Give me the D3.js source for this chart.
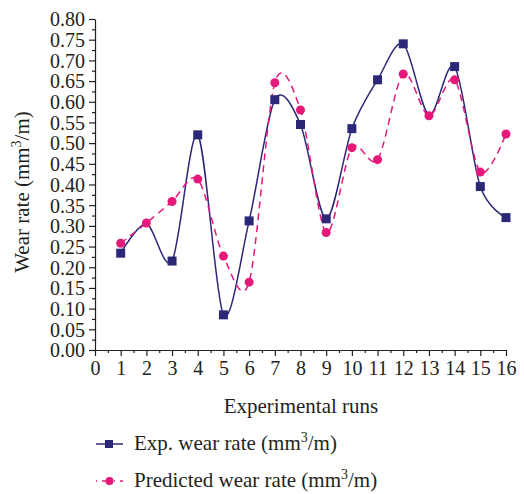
<!DOCTYPE html>
<html>
<head>
<meta charset="utf-8">
<script src="https://cdn.jsdelivr.net/npm/d3@7"></script>
<style>
  body { margin: 0; background: #fff; }
  svg text { font-family: "Liberation Serif", "DejaVu Serif", serif; fill: #231f20; }
</style>
</head>
<body>
<div id="chart"></div>
<script>
// experimental runs 1..16
const runs = d3.range(1, 17);
// measured wear rate (mm3/m)
const expWear = [0.234, 0.305, 0.215, 0.520, 0.085, 0.312, 0.605, 0.545,
                 0.317, 0.535, 0.653, 0.740, 0.568, 0.685, 0.395, 0.320];
// model prediction (mm3/m)
const predWear = [0.258, 0.307, 0.359, 0.413, 0.227, 0.164, 0.646, 0.580,
                  0.284, 0.489, 0.460, 0.667, 0.566, 0.653, 0.430, 0.522];
// markers drawn for the measured series (2 and 13 hidden under the circles)
const expMarked = [1, 3, 4, 5, 6, 7, 8, 9, 10, 11, 12, 14, 15, 16];
const yTicks = d3.range(0, 0.801, 0.05);
const xTicks = d3.range(0, 17);

const width = 524, height = 494;
const marginLeft = 95, marginTop = 19, plotRight = 506, plotBottom = 350;
const navy = "#2b2977", pink = "#e6197b";

const svg = d3.select("#chart").append("svg")
    .attr("width", width)
    .attr("height", height);

const x = d3.scaleLinear([0, 16], [marginLeft, plotRight]);
const y = d3.scaleLinear([0, 0.8], [plotBottom, marginTop]);

// y axis, major ticks plus minor halfway ticks
svg.append("g")
    .attr("transform", `translate(${marginLeft},0)`)
    .call(d3.axisLeft(y).tickValues(d3.range(0.025, 0.8, 0.05)).tickSize(3).tickSizeOuter(0).tickFormat(""))
    .call(g => g.select(".domain").remove());
svg.append("g")
    .attr("transform", `translate(${marginLeft},0)`)
    .call(d3.axisLeft(y).tickValues(yTicks).tickSize(6).tickSizeOuter(0).tickPadding(4).tickFormat(d3.format(".2f")))
    .call(g => g.selectAll("text").attr("font-size", 20).attr("dy", "0.34em"));

// x axis
svg.append("g")
    .attr("transform", `translate(0,${plotBottom})`)
    .call(d3.axisBottom(x).tickValues(d3.range(0.5, 16, 1)).tickSize(3).tickSizeOuter(0).tickFormat(""))
    .call(g => g.select(".domain").remove());
svg.append("g")
    .attr("transform", `translate(0,${plotBottom})`)
    .call(d3.axisBottom(x).tickValues(xTicks).tickSize(6).tickSizeOuter(0).tickPadding(5).tickFormat(d3.format("d")))
    .call(g => g.selectAll("text").attr("font-size", 20));

svg.selectAll(".tick line, .domain").attr("stroke", "#231f20").attr("stroke-width", 1.2);

// axis titles
svg.append("text")
    .attr("x", 301).attr("y", 413)
    .attr("text-anchor", "middle")
    .attr("font-size", 21)
    .text("Experimental runs");

const yl = svg.append("text")
    .attr("transform", "translate(29,192) rotate(-90)")
    .attr("text-anchor", "middle")
    .attr("font-size", 21);
yl.append("tspan").text("Wear rate (mm");
yl.append("tspan").attr("dy", -8).attr("font-size", 14).text("3");
yl.append("tspan").attr("dy", 8).text("/m)");

const line = d3.line()
    .x((d, i) => x(runs[i]))
    .y(d => y(d))
    .curve(d3.curveCardinal.tension(0.1));

svg.append("path")
    .attr("fill", "none")
    .attr("stroke", navy)
    .attr("stroke-width", 1.5)
    .attr("d", line(expWear));

svg.append("path")
    .attr("fill", "none")
    .attr("stroke", pink)
    .attr("stroke-width", 1.5)
    .attr("stroke-dasharray", "7,5")
    .attr("d", line(predWear));

svg.append("g").selectAll("rect")
    .data(expMarked)
    .join("rect")
    .attr("x", d => x(d) - 4.5)
    .attr("y", d => y(expWear[d - 1]) - 4.5)
    .attr("width", 9).attr("height", 9)
    .attr("fill", navy);

svg.append("g").selectAll("circle")
    .data(predWear)
    .join("circle")
    .attr("cx", (d, i) => x(runs[i]))
    .attr("cy", d => y(d))
    .attr("r", 4.5)
    .attr("fill", pink);

// legend
const legend = [
  {label: "Exp. wear rate (mm", color: navy, dash: null, shape: "square", ly: 444},
  {label: "Predicted wear rate (mm", color: pink, dash: "7,5", shape: "circle", ly: 481}
];
legend.forEach(l => {
  const g = svg.append("g");
  g.append("line")
      .attr("x1", 96).attr("x2", 123)
      .attr("y1", l.ly).attr("y2", l.ly)
      .attr("stroke", l.color).attr("stroke-width", 1.5)
      .attr("stroke-dasharray", l.dash ? "1,5,7,5" : null);
  if (l.shape === "square") {
    g.append("rect").attr("x", 105).attr("y", l.ly - 4).attr("width", 8).attr("height", 8).attr("fill", l.color);
  } else {
    g.append("circle").attr("cx", 109.5).attr("cy", l.ly).attr("r", 4).attr("fill", l.color);
  }
  const t = g.append("text").attr("x", 134).attr("y", l.ly + 6).attr("font-size", 21);
  t.append("tspan").text(l.label);
  t.append("tspan").attr("dy", -8).attr("font-size", 14).text("3");
  t.append("tspan").attr("dy", 8).text("/m)");
});
</script>
</body>
</html>
